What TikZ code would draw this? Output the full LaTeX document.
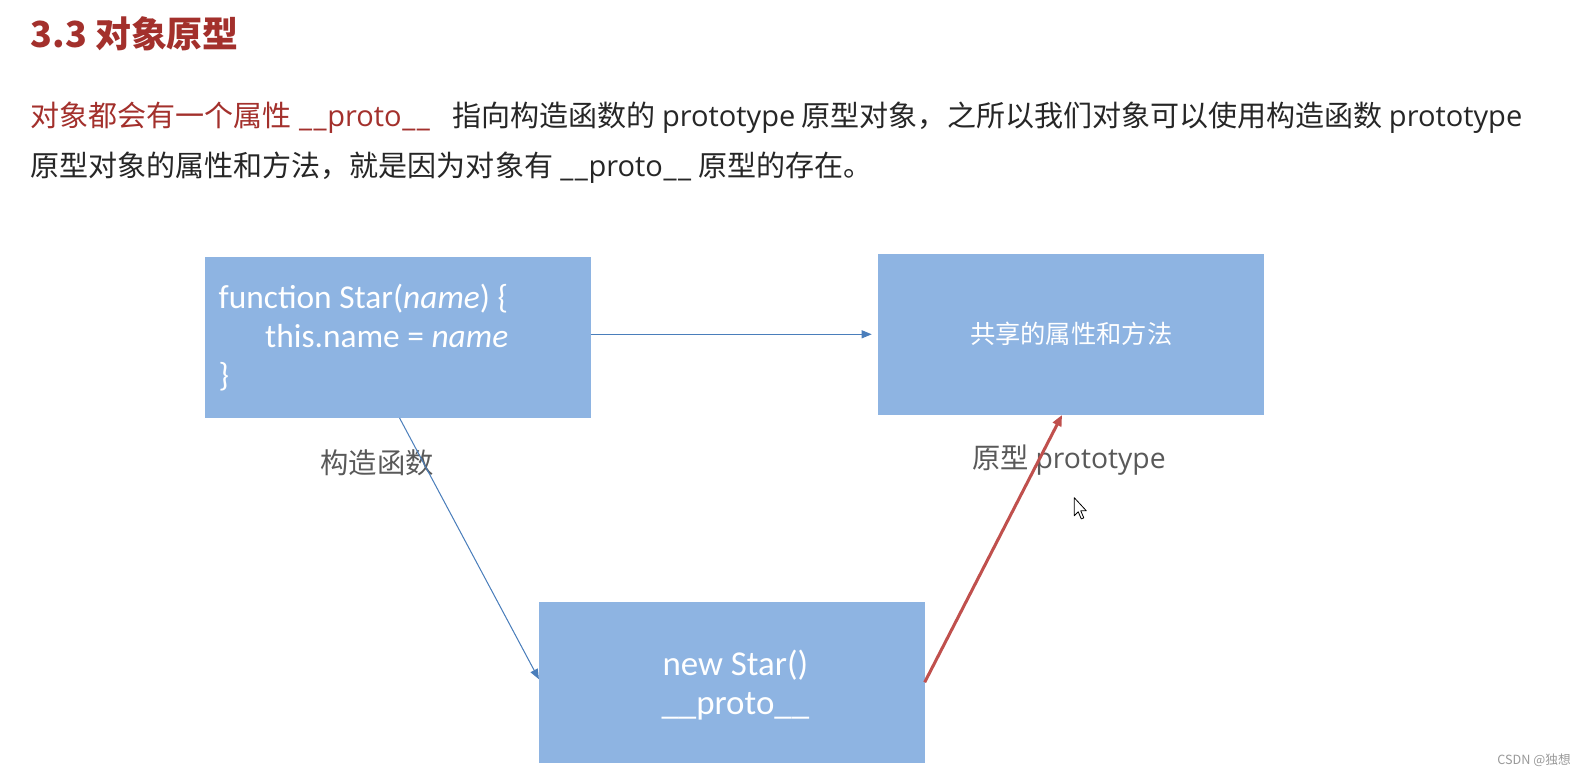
\documentclass[tikz,border=0pt]{standalone}
\usepackage{fontspec}
\setmainfont{Noto Sans CJK SC}
\newfontfamily\boxfont{Carlito}
\newfontfamily\latface{Open Sans}
\newcommand\latpart[1]{{\latface #1}}
\newcommand\wideus{\makebox[0.5em]{\_}}
\usetikzlibrary{arrows.meta}
\definecolor{titlered}{HTML}{A3302C}
\definecolor{boxblue}{HTML}{8EB4E2}
\definecolor{linkblue}{HTML}{4A7EBB}
\definecolor{linkred}{HTML}{C0504D}
\definecolor{labelgray}{HTML}{595959}
\definecolor{bodytext}{HTML}{262626}
\tikzset{
  bluebox/.style={fill=boxblue, draw=none, inner sep=0pt, minimum width=381pt, minimum height=159pt},
  bluelink/.style={draw=linkblue, line width=1pt, -{Triangle[length=10pt,width=8pt]}},
  redlink/.style={draw=linkred, line width=3pt, -{Triangle[length=11pt,width=9pt]}},
  graylabel/.style={text=labelgray, font=\fontsize{28}{34}\selectfont, inner sep=0pt},
  boxtext/.style={text=white, inner sep=0pt},
  para/.style={anchor=west, inner sep=0pt, text=bodytext, font=\fontsize{28.7}{34}\selectfont}
}
\begin{document}
\begin{tikzpicture}[x=1pt,y=-1pt]
\fill[white] (0,0) rectangle (1568,768.2);
\useasboundingbox (0,0) rectangle (1568,768.2);

% title and paragraph
\node[anchor=west, inner sep=0pt, text=titlered, font=\fontsize{35.5}{40}\selectfont\bfseries] (title) at (30,33) {3.3 对象原型};
\node[para, text=titlered] (line1a) at (30,116) {对象都会有一个属性 \latpart{\wideus\wideus proto\wideus\wideus}};
\node[para] (line1b) at (447,116) {指向构造函数的 \latpart{prototype} 原型对象，之所以我们对象可以使用构造函数 \latpart{prototype}};
\node[para] (line2) at (30,166) {原型对象的属性和方法，就是因为对象有 \latpart{\wideus\wideus proto\wideus\wideus} 原型的存在。};

% boxes
\node[bluebox] (b1) at (393.5,333.5) {};
\node[bluebox, minimum width=382pt] (b2) at (1059,330.5) {};
\node[bluebox] (b3) at (723.5,674.5) {};

\node[boxtext, anchor=west, align=left, font=\boxfont\fontsize{33}{38.5}\selectfont] (code) at (216,334)
  {function Star(\textit{name}) \{\\ \hspace*{46pt}this.name = \textit{name}\\ \}};
\node[boxtext, font=\fontsize{25}{30}\selectfont] (shared) at (b2.center) {共享的属性和方法};
\node[boxtext, align=center, font=\boxfont\fontsize{34.5}{39}\selectfont] (inst) at (727,677)
  {new Star()\\ \_\_proto\_\_};

% labels
\node[graylabel] (lblctor) at (373,458) {构造函数};
\node[graylabel] (lblproto) at (1057,455) {原型 \latpart{prototype}};

% connectors
\draw[bluelink, shorten >=6pt] (b1.east |- b2.west) -- (b2.west);
\draw[bluelink] ([xshift=1.5pt]b1.south) -- ([yshift=3pt]b3.west);
\draw[redlink] (b3.east) -- ([xshift=-9pt]b2.south);

% cursor
\filldraw[fill=white, draw=black, line width=0.8pt, line join=round]
  (1062,492) -- (1062,510) -- (1066,506) -- (1069,513) -- (1071.5,512) -- (1068.5,505) -- (1074,505) -- cycle;

% watermark
\node[anchor=east, inner sep=0pt, text=gray!80, font=\fontsize{12.5}{15}\selectfont] (mark) at (1553,752) {CSDN @独想};
\end{tikzpicture}
\end{document}
